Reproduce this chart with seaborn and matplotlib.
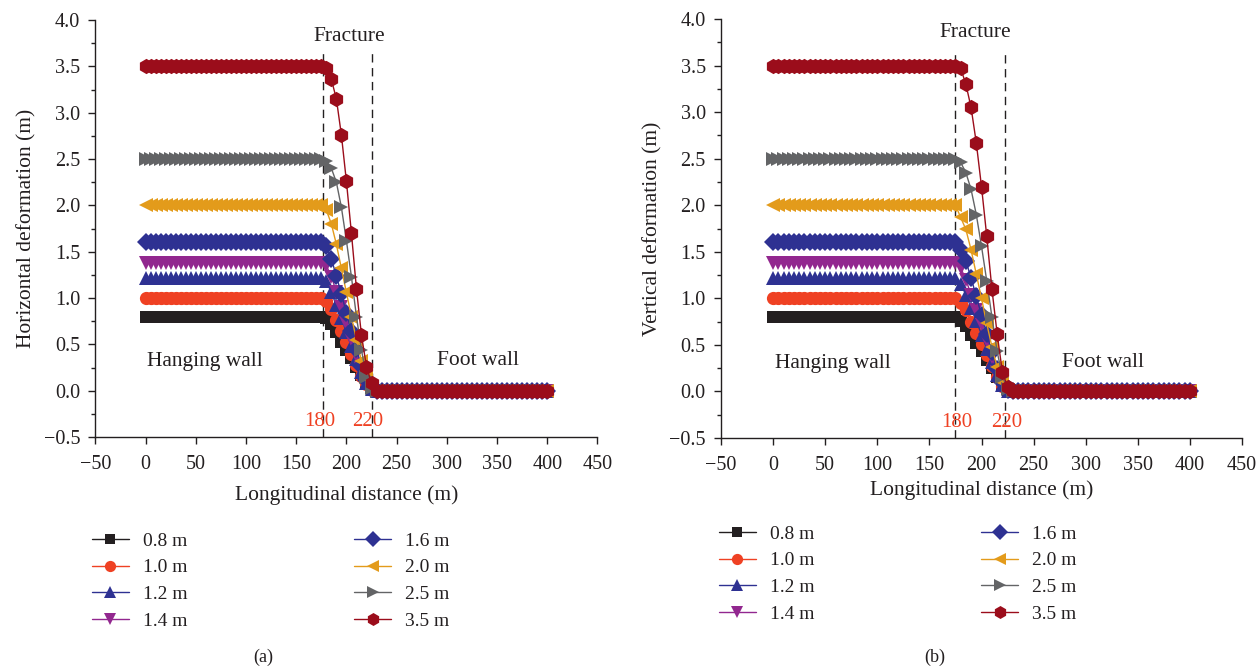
import matplotlib
matplotlib.use("Agg")
import matplotlib.pyplot as plt
import numpy as np
import pandas as pd
import seaborn as sns
from matplotlib.ticker import MultipleLocator, FuncFormatter

sns.set_theme(style="ticks")
plt.rcParams["font.family"] = ["Liberation Serif", "DejaVu Serif"]
plt.rcParams["legend.numpoints"] = 1
plt.rcParams["axes.unicode_minus"] = True

# ---------------- data ----------------
x_m = list(range(0, 405, 5))            # longitudinal distance, 81 points
n_plateau = 36                           # 0 .. 175 m (hanging wall, flat)
n_foot = 34                              # 235 .. 400 m (foot wall, zero)

series_labels = ["0.8 m", "1.0 m", "1.2 m", "1.4 m", "1.6 m", "2.0 m", "2.5 m", "3.5 m"]

# (a) horizontal deformation
plateau_h = [0.80, 1.00, 1.22, 1.38, 1.60, 2.00, 2.50, 3.50]
drop_h_08 = [0.78, 0.72, 0.63, 0.53, 0.44, 0.35, 0.26, 0.17, 0.08, 0.02, 0.0]
drop_h_10 = [0.97, 0.88, 0.76, 0.64, 0.52, 0.40, 0.28, 0.16, 0.07, 0.01, 0.0]
drop_h_12 = [1.18, 1.06, 0.92, 0.78, 0.63, 0.48, 0.34, 0.20, 0.08, 0.02, 0.0]
drop_h_14 = [1.35, 1.23, 1.07, 0.90, 0.73, 0.56, 0.39, 0.23, 0.10, 0.02, 0.0]
drop_h_16 = [1.56, 1.42, 1.24, 1.04, 0.84, 0.64, 0.45, 0.27, 0.12, 0.03, 0.0]
drop_h_20 = [1.95, 1.80, 1.58, 1.32, 1.06, 0.80, 0.55, 0.32, 0.14, 0.04, 0.0]
drop_h_25 = [2.48, 2.40, 2.25, 1.98, 1.62, 1.23, 0.80, 0.44, 0.15, 0.03, 0.0]
drop_h_35 = [3.48, 3.36, 3.15, 2.76, 2.26, 1.70, 1.10, 0.60, 0.26, 0.08, 0.0]

# (b) vertical deformation
plateau_v = [0.80, 1.00, 1.22, 1.38, 1.60, 2.00, 2.50, 3.50]
drop_v_08 = [0.76, 0.70, 0.61, 0.52, 0.43, 0.34, 0.25, 0.16, 0.07, 0.01, 0.0]
drop_v_10 = [0.95, 0.87, 0.75, 0.63, 0.51, 0.39, 0.27, 0.15, 0.06, 0.01, 0.0]
drop_v_12 = [1.15, 1.04, 0.90, 0.76, 0.61, 0.46, 0.32, 0.18, 0.07, 0.01, 0.0]
drop_v_14 = [1.33, 1.20, 1.04, 0.88, 0.71, 0.54, 0.37, 0.21, 0.08, 0.02, 0.0]
drop_v_16 = [1.52, 1.40, 1.22, 1.02, 0.82, 0.62, 0.42, 0.24, 0.10, 0.02, 0.0]
drop_v_20 = [1.87, 1.74, 1.52, 1.26, 1.00, 0.73, 0.48, 0.26, 0.10, 0.02, 0.0]
drop_v_25 = [2.46, 2.35, 2.17, 1.90, 1.56, 1.19, 0.80, 0.43, 0.16, 0.03, 0.0]
drop_v_35 = [3.47, 3.30, 3.05, 2.67, 2.20, 1.67, 1.10, 0.62, 0.21, 0.05, 0.0]

drops_h = [drop_h_08, drop_h_10, drop_h_12, drop_h_14, drop_h_16, drop_h_20, drop_h_25, drop_h_35]
drops_v = [drop_v_08, drop_v_10, drop_v_12, drop_v_14, drop_v_16, drop_v_20, drop_v_25, drop_v_35]

fracture_lines_a = [177, 225]
fracture_lines_b = [175, 223]
fracture_tick_labels = ["180", "220"]

# ---------------- style ----------------
colors = ["#231f20", "#ef4123", "#2e3192", "#92278f", "#2e3192", "#e39b1b", "#636466", "#9b0d1b"]
markers = ["s", "o", "^", "v", "D", "<", ">", "h"]
msizes = [8.5, 9.5, 10, 10, 9, 10, 10, 11]
text_color = "#231f20"
red_text = "#ef4123"


def build_df(plateaus, drops):
    rows = []
    for lab, p, d in zip(series_labels, plateaus, drops):
        ys = [p] * n_plateau + list(d) + [0.0] * n_foot
        for xv, yv in zip(x_m, ys):
            rows.append((lab, xv, yv))
    return pd.DataFrame(rows, columns=["series", "x", "y"])


fig = plt.figure(figsize=(12.6, 6.72), dpi=100)
ax_a = fig.add_axes([95.4 / 1260, 1 - 437 / 672, 502 / 1260, 417 / 672])
ax_b = fig.add_axes([721 / 1260, 1 - 438 / 672, 521 / 1260, 419 / 672])

fmt_y = FuncFormatter(lambda v, p: f"{v:.1f}".replace("-", "\u2212"))
fmt_x = FuncFormatter(lambda v, p: f"{v:.0f}".replace("-", "\u2212"))


def draw(ax, df, ylabel, vl, texts, xlabelpad):
    for i, lab in enumerate(series_labels):
        sub = df[df["series"] == lab]
        sns.lineplot(data=sub, x="x", y="y", ax=ax, color=colors[i], marker=markers[i],
                     markersize=msizes[i], markeredgewidth=0, linewidth=1.0,
                     estimator=None, sort=False, label=lab, legend=False)
    ax.vlines(vl, -0.5, 3.65, colors="#231f20", linestyles=(0, (6, 4)), linewidth=1.0, zorder=1)
    ax.set_xlim(-50, 450)
    ax.set_ylim(-0.5, 4.0)
    ax.xaxis.set_major_locator(MultipleLocator(50))
    ax.yaxis.set_major_locator(MultipleLocator(0.5))
    ax.yaxis.set_minor_locator(MultipleLocator(0.25))
    ax.yaxis.set_major_formatter(fmt_y)
    ax.xaxis.set_major_formatter(fmt_x)
    ax.tick_params(which="major", direction="out", length=5, width=1, colors=text_color,
                   labelsize=14.5)
    ax.tick_params(axis="x", which="major", pad=8)
    ax.tick_params(axis="y", which="major", pad=6)
    ax.tick_params(which="minor", direction="out", length=3, width=1, colors=text_color)
    for s in ["top", "right"]:
        ax.spines[s].set_visible(False)
    for s in ["left", "bottom"]:
        ax.spines[s].set_color(text_color)
        ax.spines[s].set_linewidth(1.0)
    ax.set_xlabel("Longitudinal distance (m)", fontsize=15.5, color=text_color, labelpad=xlabelpad)
    ax.set_ylabel(ylabel, fontsize=15.5, color=text_color, labelpad=5)
    (fx, fy), (hx, hy), (wx, wy), (l1x, l2x) = texts
    ax.text(fx, fy, "Fracture", fontsize=15.5, color=text_color, ha="center", va="center")
    ax.text(hx, hy, "Hanging wall", fontsize=15.5, color=text_color, ha="center", va="center")
    ax.text(wx, wy, "Foot wall", fontsize=15.5, color=text_color, ha="center", va="center")
    ax.text(l1x, -0.33, fracture_tick_labels[0], fontsize=15, color=red_text, ha="center", va="center")
    ax.text(l2x, -0.33, fracture_tick_labels[1], fontsize=15, color=red_text, ha="center", va="center")


df_a = build_df(plateau_h, drops_h)
df_b = build_df(plateau_v, drops_v)

draw(ax_a, df_a, "Horizontal deformation (m)", fracture_lines_a,
     ((203, 3.82), (59, 0.31), (331, 0.33), (173.5, 221)), 8)
draw(ax_b, df_b, "Vertical deformation (m)", fracture_lines_b,
     ((194, 3.86), (57, 0.30), (317, 0.31), (176, 224)), 4)

for ax, (lx, ly) in [(ax_a, (92 / 1260, 1 - 532 / 672)), (ax_b, (719 / 1260, 1 - 525 / 672))]:
    handles = ax.get_lines()[:8]
    fig.legend(handles, series_labels, loc="upper left", bbox_to_anchor=(lx, ly),
               ncol=2, frameon=False, fontsize=14, handlelength=1.9, handletextpad=0.7,
               columnspacing=8.6, labelspacing=0.47, borderpad=0, borderaxespad=0,
               labelcolor=text_color, markerscale=0.85)

fig.text(263 / 1260, 1 - 657 / 672, "(a)", fontsize=13, color=text_color, ha="center", va="center")
fig.text(935 / 1260, 1 - 657 / 672, "(b)", fontsize=13, color=text_color, ha="center", va="center")

fig.savefig("out.png", dpi=100)
